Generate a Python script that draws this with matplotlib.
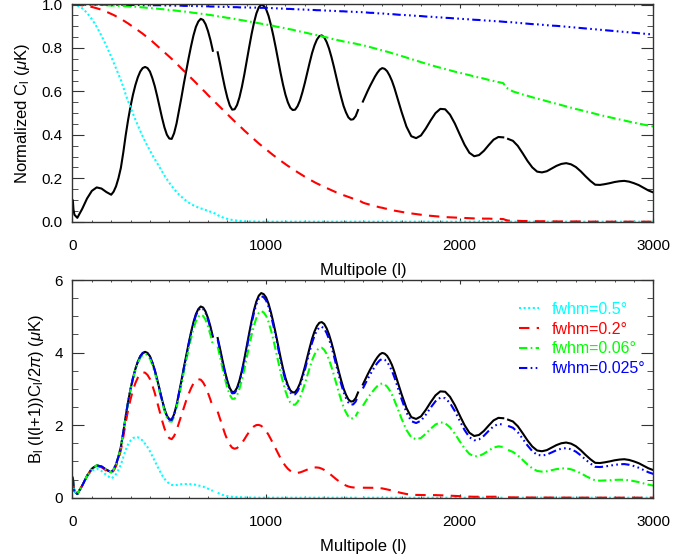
import numpy as np
import matplotlib
matplotlib.use("Agg")
import matplotlib.pyplot as plt
from matplotlib.ticker import MultipleLocator, FormatStrFormatter

plt.rcParams['font.family'] = ['Liberation Sans', 'DejaVu Sans']
plt.rcParams['mathtext.fontset'] = 'custom'
plt.rcParams['mathtext.rm'] = 'Liberation Sans'
plt.rcParams['mathtext.it'] = 'Liberation Sans:italic'

# Multipole sample positions: finer where the acoustic peaks are sharp
ell = np.concatenate([[2, 5, 10, 25, 50, 75, 100, 125, 150, 175],
                      np.arange(200, 1700.1, 12.5),
                      np.arange(1725, 2226, 25), [2237],
                      np.arange(2250, 3001, 25)])

# l(l+1)C_l/2pi in uK, unsmoothed (nan = breaks in the curve)
nan = np.nan
cl = np.array([0.55, 0.32, 0.18, 0.10, 0.33, 0.60, 0.80, 0.89, 0.86, 0.77,
               0.70, 0.78, 0.92, 1.13, 1.40, 1.80, 2.25, 2.65,
               3.00, 3.30, 3.55, 3.75, 3.90, 3.99, 4.02, 3.99,
               3.90, 3.73, 3.52, 3.26, 2.98, 2.70, 2.45, 2.26,
               2.16, 2.15, 2.30, 2.55, 2.88, 3.22, 3.58, 3.92,
               4.25, 4.56, 4.84, 5.06, 5.20, 5.27, 5.24, 5.13,
               4.95, 4.72, 4.44, nan, 4.40, 4.10, 3.78, 3.48,
               3.22, 3.02, 2.91, 2.92, 3.03, 3.23, 3.50, 3.82,
               4.18, 4.53, 4.87, 5.17, 5.41, 5.57, 5.64, 5.61,
               5.52, 5.35, 5.11, 4.83, 4.52, 4.19, 3.86, 3.56,
               3.30, 3.10, 2.96, 2.90, 2.91, 3.00, 3.15, 3.36,
               3.60, 3.87, 4.13, 4.38, 4.58, 4.73, 4.82, 4.84,
               4.79, 4.67, 4.50, 4.28, 4.03, 3.76, 3.49, 3.24,
               3.01, 2.84, 2.71, 2.65, 2.66, 2.74, 2.90, nan,
               3.12, 3.26, 3.40, 3.53, 3.65, 3.77, 3.87, 3.95,
               3.99, 3.97, 3.91, 3.80, 3.66, 3.48, 3.27, 3.06,
               2.85,
               2.47, 2.22, 2.17, 2.24, 2.42, 2.63, 2.82, 2.93, 2.92, 2.78, 2.55, 2.27, 2.00,
               1.79, 1.70, 1.73, 1.84, 1.99, 2.13, 2.20, 2.19,
               nan,
               2.15, 2.10, 1.97, 1.78, 1.58, 1.41, 1.30, 1.28, 1.31, 1.38, 1.45, 1.50, 1.52,
               1.49, 1.42, 1.31, 1.18, 1.06, 0.96, 0.955, 0.975, 1.00, 1.03, 1.05, 1.06, 1.04,
               1.00, 0.95, 0.88, 0.81, 0.76])

# beam window functions B_l
b_05 = np.array([1.0, 1.0, 1.0, 0.996, 0.983, 0.962, 0.933, 0.898, 0.856, 0.81,
                 0.76, 0.733, 0.706, 0.679, 0.652, 0.62, 0.585, 0.555,
                 0.525, 0.497, 0.47, 0.444, 0.418, 0.394, 0.37, 0.349,
                 0.328, 0.307, 0.288, 0.268, 0.25, 0.231, 0.213, 0.196,
                 0.179, 0.164, 0.15, 0.137, 0.125, 0.115, 0.105, 0.096,
                 0.088, 0.081, 0.075, 0.07, 0.065, 0.061, 0.058, 0.054,
                 0.05, 0.046, 0.042, 0.037, 0.03, 0.025, 0.02, 0.016,
                 0.013, 0.01, 0.008, 0.006, 0.005, 0.004, 0.003, 0.002,
                 0.002, 0.001, 0.001, 0.001, 0.0, 0.0, 0.0, 0.0]
                + [0.0] * 110)
b_02 = np.array([1.0, 1.0, 1.0, 0.999, 0.997, 0.994, 0.989, 0.983, 0.976, 0.967,
                 0.957, 0.952, 0.946, 0.94, 0.934, 0.927, 0.92, 0.913,
                 0.905, 0.898, 0.89, 0.882, 0.874, 0.866, 0.857, 0.848,
                 0.839, 0.83, 0.82, 0.81, 0.80, 0.79, 0.78, 0.77,
                 0.76, 0.75, 0.739, 0.728, 0.717, 0.706, 0.695, 0.684,
                 0.673, 0.662, 0.651, 0.64, 0.628, 0.617, 0.606, 0.595,
                 0.583, 0.572, 0.561, 0.55, 0.539, 0.528, 0.517, 0.506,
                 0.495, 0.484, 0.473, 0.462, 0.452, 0.441, 0.431, 0.42,
                 0.41, 0.40, 0.39, 0.38, 0.37, 0.36, 0.351, 0.342,
                 0.333, 0.324, 0.315, 0.306, 0.298, 0.289, 0.281, 0.273,
                 0.265, 0.257, 0.25, 0.242, 0.235, 0.228, 0.221, 0.214,
                 0.207, 0.2, 0.194, 0.188, 0.182, 0.176, 0.171, 0.165,
                 0.16, 0.155, 0.15, 0.145, 0.14, 0.135, 0.131, 0.126,
                 0.122, 0.118, 0.114, 0.11, 0.106, 0.102, 0.099, 0.094,
                 0.088, 0.084, 0.081, 0.078, 0.075, 0.072, 0.069, 0.066,
                 0.064, 0.061, 0.059, 0.056, 0.054, 0.051, 0.049, 0.047,
                 0.045,
                 0.041, 0.038, 0.035, 0.032, 0.029, 0.027, 0.025, 0.023, 0.021, 0.02, 0.019,
                 0.018, 0.017, 0.016, 0.015, 0.015, 0.014, 0.014, 0.013, 0.013, 0.012,
                 0.008,
                 0.005, 0.004, 0.004, 0.003, 0.003, 0.003, 0.002, 0.002, 0.002, 0.002, 0.001,
                 0.001, 0.001, 0.001, 0.001, 0.001, 0.001]
                + [0.0] * 14)
b_006 = np.array([1.0, 1.0, 1.0, 1.0, 1.0, 0.999, 0.999, 0.998, 0.998, 0.997,
                  0.996, 0.996, 0.995, 0.995, 0.994, 0.994, 0.993, 0.992,
                  0.991, 0.99, 0.99, 0.989, 0.988, 0.987, 0.986, 0.985,
                  0.984, 0.983, 0.982, 0.981, 0.98, 0.979, 0.978, 0.977,
                  0.975, 0.974, 0.973, 0.972, 0.97, 0.969, 0.968, 0.967,
                  0.965, 0.964, 0.962, 0.961, 0.959, 0.958, 0.956, 0.955,
                  0.953, 0.952, 0.95, 0.948, 0.946, 0.945, 0.943, 0.941,
                  0.939, 0.938, 0.936, 0.934, 0.932, 0.93, 0.928, 0.926,
                  0.924, 0.922, 0.92, 0.918, 0.916, 0.914, 0.912, 0.91,
                  0.908, 0.906, 0.904, 0.902, 0.899, 0.897, 0.895, 0.893,
                  0.89, 0.888, 0.886, 0.884, 0.881, 0.879, 0.876, 0.874,
                  0.871, 0.869, 0.866, 0.864, 0.861, 0.859, 0.856, 0.854,
                  0.851, 0.849, 0.846, 0.843, 0.84, 0.838, 0.835, 0.833,
                  0.83, 0.828, 0.826, 0.824, 0.822, 0.82, 0.817, 0.815,
                  0.812, 0.81, 0.807, 0.804, 0.801, 0.798, 0.795, 0.792,
                  0.789, 0.786, 0.783, 0.78, 0.776, 0.773, 0.77, 0.767,
                  0.763,
                  0.756, 0.749, 0.742, 0.735, 0.728, 0.722, 0.715, 0.709, 0.703, 0.697, 0.691,
                  0.686, 0.68, 0.675, 0.669, 0.664, 0.659, 0.653, 0.648, 0.643, 0.638,
                  0.622,
                  0.612, 0.60, 0.593, 0.586, 0.58, 0.573, 0.567, 0.561, 0.555, 0.549, 0.543,
                  0.537, 0.531, 0.525, 0.519, 0.514, 0.508, 0.503, 0.497, 0.491, 0.486, 0.481,
                  0.476, 0.471, 0.466, 0.461, 0.456, 0.452, 0.447, 0.443, 0.438])
b_0025 = np.array([1.0] * 10 + [0.999] * 8 +
                  [0.998, 0.998, 0.998, 0.998, 0.998, 0.997, 0.997, 0.997,
                   0.997, 0.997, 0.997, 0.997, 0.997, 0.996, 0.996, 0.996,
                   0.996, 0.996, 0.995, 0.995, 0.995, 0.995, 0.994, 0.994,
                   0.994, 0.994, 0.993, 0.993, 0.993, 0.993, 0.992, 0.992,
                   0.992, 0.991, 0.991, 0.991, 0.99, 0.99, 0.99, 0.989,
                   0.989, 0.989, 0.988, 0.988, 0.988, 0.987, 0.987, 0.987,
                   0.987, 0.986, 0.986, 0.986, 0.986, 0.985, 0.985, 0.985,
                   0.985, 0.984, 0.984, 0.983, 0.983, 0.982, 0.982, 0.981,
                   0.981, 0.98, 0.98, 0.979, 0.979, 0.978, 0.978, 0.977,
                   0.977, 0.976, 0.976, 0.975, 0.975, 0.974, 0.974, 0.973,
                   0.973, 0.972, 0.972, 0.971, 0.971, 0.97, 0.97, 0.969,
                   0.969, 0.968, 0.968, 0.967, 0.967, 0.966, 0.966, 0.965,
                   0.965, 0.964, 0.963, 0.962, 0.962, 0.961, 0.96, 0.959,
                   0.959, 0.958, 0.957, 0.956, 0.956, 0.955, 0.954, 0.953,
                   0.953,
                   0.951, 0.95, 0.948, 0.947, 0.945, 0.944, 0.942, 0.941, 0.939, 0.938, 0.936,
                   0.935, 0.933, 0.932, 0.93, 0.929, 0.927, 0.926, 0.924, 0.923, 0.921,
                   0.92,
                   0.92, 0.918, 0.916, 0.914, 0.912, 0.91, 0.909, 0.907, 0.905, 0.903, 0.902,
                   0.9, 0.898, 0.896, 0.894, 0.892, 0.89, 0.888, 0.886, 0.884, 0.882, 0.88,
                   0.878, 0.876, 0.874, 0.872, 0.87, 0.868, 0.866, 0.864, 0.862])

beams = [b_05, b_02, b_006, b_0025]
for arr in [cl] + beams:
    if len(arr) != len(ell):
        raise ValueError('length mismatch %s' % [len(a) for a in [ell, cl] + beams])

labels = [u'fwhm=0.5\u00b0', u'fwhm=0.2\u00b0', u'fwhm=0.06\u00b0', u'fwhm=0.025\u00b0']
colors = ['#00ffff', '#ff0000', '#00ff00', '#0000ff']
dashes = [(1, 1.2), (5, 3.5), (4, 1.6, 0.8, 1.6), (4, 1.6, 0.8, 1.6, 0.8, 1.6, 0.8, 1.6)]

lw = 1.5
fig = plt.figure(figsize=(6.73, 5.6), dpi=100)
ax1 = fig.add_axes([0.1077, 0.603, 0.863, 0.390])
ax2 = fig.add_axes([0.1077, 0.110, 0.863, 0.390])

# top panel: normalized spectrum and beams
ax1.plot(ell, cl / np.nanmax(cl), color='black', lw=lw)
for b, c, d in zip(beams, colors, dashes):
    ax1.plot(ell, b, color=c, lw=lw, dashes=d)

# bottom panel: spectrum smoothed by each beam
ax2.plot(ell, cl, color='black', lw=lw)
for b, c, d, lab in zip(beams, colors, dashes, labels):
    ax2.plot(ell, cl * b, color=c, lw=lw, dashes=d, label=lab)

ax1.set_ylim(-0.003, 1.003)
ax2.set_ylim(-0.02, 6.0)
ax1.set_ylabel(r'Normalized C$_\mathregular{l}$ ($\mu$K)', fontsize=12, labelpad=7)
ax2.set_ylabel(r'B$_\mathregular{l}$ (l(l+1))C$_\mathregular{l}$/2$\pi$) ($\mu$K)',
               fontsize=12, labelpad=6)
ax1.yaxis.set_major_locator(MultipleLocator(0.2))
ax1.yaxis.set_minor_locator(MultipleLocator(0.05))
ax1.yaxis.set_major_formatter(FormatStrFormatter('%.1f'))
ax2.yaxis.set_major_locator(MultipleLocator(2))
ax2.yaxis.set_minor_locator(MultipleLocator(0.5))

for ax in (ax1, ax2):
    ax.set_xlim(0, 3000)
    ax.set_xlabel('Multipole (l)', fontsize=12, labelpad=7)
    ax.xaxis.set_major_locator(MultipleLocator(1000))
    ax.xaxis.set_minor_locator(MultipleLocator(100))
    ax.tick_params(which='both', direction='in', top=True, right=True, labelsize=11,
                   color='#333333')
    ax.tick_params(axis='x', which='major', length=3.2, pad=12)
    ax.tick_params(axis='x', which='minor', length=1.6)
    ax.tick_params(axis='y', which='major', length=8.4, pad=7)
    ax.tick_params(axis='y', which='minor', length=4.2)
    for s in ax.spines.values():
        s.set_color('#333333')
        s.set_linewidth(1.0)

fig.canvas.draw()
for ax in (ax1, ax2):
    ticks = ax.yaxis.get_major_ticks()
    ticks[0].label1.set_verticalalignment('bottom')
    ticks[-1].label1.set_verticalalignment('top')

ax2.legend(loc='upper right', bbox_to_anchor=(0.986, 0.9), frameon=False, fontsize=11.5,
           labelcolor='linecolor', handlelength=1.25, handletextpad=0.8, labelspacing=0.3,
           borderpad=0, borderaxespad=0)

fig.savefig('out.png', dpi=100)
